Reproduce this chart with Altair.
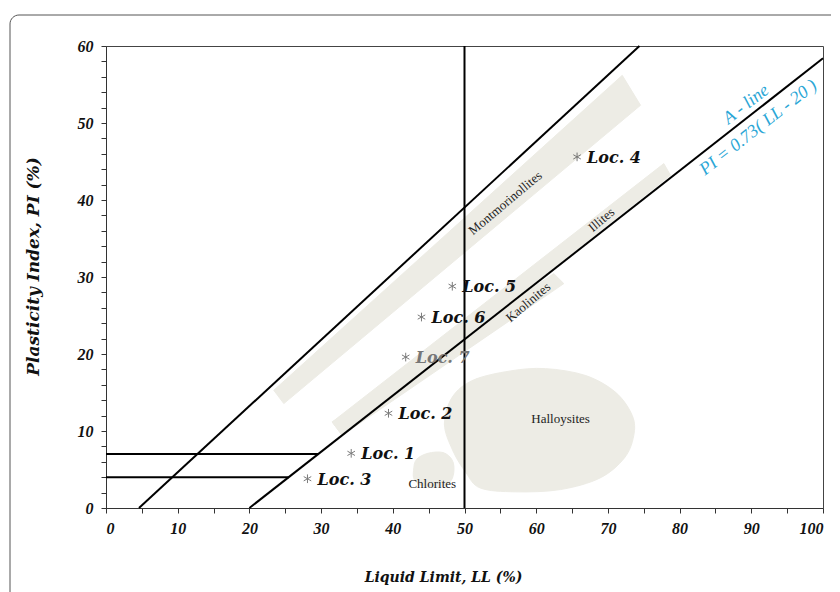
import altair as alt
import pandas as pd

# ---------------- data ----------------
# Reference lines (Casagrande chart)
line_names = ["U-line", "U-line", "A-line", "A-line", "PI7", "PI7", "PI4", "PI4", "LL50", "LL50"]
line_ll = [4.6, 74.4, 20, 100, 0, 29.6, 0, 25.5, 50, 50]
line_pi = [0, 60, 0, 58.4, 7, 7, 4, 4, 0, 60]

# Clay-mineral zones (band polygons, closed)
band_names = ["Montmorillonites"] * 5 + ["Kaolinites"] * 5 + ["Illites"] * 5
band_ll = [23.4, 72.0, 74.55, 24.8, 23.4,
           31.55, 62.45, 63.85, 32.94, 31.55,
           31.55, 77.8, 78.73, 32.94, 31.55]
band_pi = [15.29, 56.19, 52.3, 13.56, 15.29,
           11.17, 30.44, 29.14, 9.44, 11.17,
           11.17, 44.73, 43.21, 9.44, 11.17]

# Blob zones (smooth closed outlines)
halloysite_ll = [47.2, 48.3, 51.2, 56.4, 61.3, 66.9, 71.1, 73.4, 73.6, 72.3,
                 68.9, 63.4, 57.1, 52.2, 50.2, 48.4]
halloysite_pi = [10.9, 14.4, 16.6, 17.8, 18.1, 17.2, 15.0, 12.0, 9.4, 6.5,
                 3.9, 2.4, 2.1, 2.6, 4.6, 7.4]
chlorite_ll = [42.9, 43.3, 44.9, 47.0, 48.3, 48.5, 47.9, 46.3, 44.1, 43.0]
chlorite_pi = [4.9, 6.3, 7.1, 7.2, 6.2, 4.6, 3.3, 2.7, 2.9, 3.7]

# Sample locations
loc_names = ["Loc. 1", "Loc. 2", "Loc. 3", "Loc. 4", "Loc. 5", "Loc. 6", "Loc. 7"]
loc_ll = [34.2, 39.4, 28.1, 65.7, 48.3, 44.0, 41.8]
loc_pi = [7.1, 12.3, 3.8, 45.6, 28.8, 24.8, 19.6]

# Zone labels
zone_rot_names = ["Montmorinollites", "Illites", "Kaolinites"]
zone_rot_ll = [55.7, 69.1, 58.9]
zone_rot_pi = [39.6, 37.4, 26.7]
zone_flat_names = ["Halloysites", "Chlorites"]
zone_flat_ll = [63.4, 45.5]
zone_flat_pi = [11.5, 3.1]

# A-line annotation
aline_text = ["A - line", "PI = 0.73( LL - 20 )"]
aline_ll = [89.3, 91.0]
aline_pi = [52.4, 49.4]

# ---------------- tables ----------------
lines_df = pd.DataFrame({"name": line_names, "LL": line_ll, "PI": line_pi,
                         "i": list(range(len(line_names)))})
bands_df = pd.DataFrame({"name": band_names, "LL": band_ll, "PI": band_pi,
                         "i": list(range(len(band_names)))})
blobs_df = pd.DataFrame({
    "name": ["Halloysites"] * len(halloysite_ll) + ["Chlorites"] * len(chlorite_ll),
    "LL": halloysite_ll + chlorite_ll,
    "PI": halloysite_pi + chlorite_pi,
    "i": list(range(len(halloysite_ll) + len(chlorite_ll))),
})
locs_df = pd.DataFrame({"name": loc_names, "LL": loc_ll, "PI": loc_pi})
zrot_df = pd.DataFrame({"name": zone_rot_names, "LL": zone_rot_ll, "PI": zone_rot_pi})
zflat_df = pd.DataFrame({"name": zone_flat_names, "LL": zone_flat_ll, "PI": zone_flat_pi})
aline_df = pd.DataFrame({"name": aline_text, "LL": aline_ll, "PI": aline_pi})

SERIF = "Liberation Serif"
WIDE = "DejaVu Serif"
ZONE_FILL = "#edece5"

x_axis = alt.Axis(
    title="Liquid Limit, LL (%)",
    values=list(range(0, 101, 5)),
    labelExpr="datum.value % 10 === 0 ? datum.label : ''",
    grid=False, tickSize=5, tickColor="#333", domainColor="#333",
    labelFont=SERIF, labelFontStyle="italic", labelFontWeight="bold", labelFontSize=16,
    labelColor="#111", labelPadding=7,
    titleFont=WIDE, titleFontStyle="italic", titleFontWeight="bold", titleFontSize=14,
    titleColor="#111", titleX=337, titleY=69, titleBaseline="middle", titleAlign="center",
)
y_axis = alt.Axis(
    title="Plasticity Index, PI (%)",
    values=list(range(0, 61, 2)),
    labelExpr="datum.value % 10 === 0 ? datum.label : ''",
    grid=False, tickSize=5, tickColor="#333", domainColor="#333",
    labelFont=SERIF, labelFontStyle="italic", labelFontWeight="bold", labelFontSize=16,
    labelColor="#111", labelPadding=8,
    titleFont=WIDE, titleFontStyle="italic", titleFontWeight="bold", titleFontSize=17,
    titleColor="#111", titleX=-73, titleY=220, titleBaseline="middle", titleAlign="center",
    titleAngle=270,
)
X = alt.X("LL:Q", scale=alt.Scale(domain=[0, 100], nice=False, zero=False), axis=x_axis)
Y = alt.Y("PI:Q", scale=alt.Scale(domain=[0, 60], nice=False, zero=False), axis=y_axis)

frame = alt.Chart(pd.DataFrame({"a": [0]})).mark_rect(
    filled=False, stroke="#555", strokeWidth=1, cornerRadius=9, fill="transparent"
).encode(x=alt.value(-96), x2=alt.value(820), y=alt.value(-31), y2=alt.value(640))

bands = alt.Chart(bands_df).mark_line(
    fill=ZONE_FILL, stroke=ZONE_FILL, strokeWidth=1
).encode(x=X, y=Y, detail="name:N", order="i:Q")

blobs = alt.Chart(blobs_df).mark_line(
    fill=ZONE_FILL, stroke=ZONE_FILL, strokeWidth=1, interpolate="cardinal-closed"
).encode(x=X, y=Y, detail="name:N", order="i:Q")

lines = alt.Chart(lines_df).mark_line(color="#000", strokeWidth=2).encode(
    x=X, y=Y, detail="name:N", order="i:Q")

ast = "M0,-1L0,1M-0.87,-0.5L0.87,0.5M-0.87,0.5L0.87,-0.5"
points = alt.Chart(locs_df).mark_point(
    shape=ast, size=75, filled=False, stroke="#444", strokeWidth=1
).encode(x=X, y=Y)

loc_labels = alt.Chart(locs_df).mark_text(
    align="left", baseline="middle", dx=10, dy=1, font=WIDE, fontStyle="italic",
    fontWeight="bold", fontSize=16
).encode(
    x=X, y=Y, text="name:N",
    color=alt.condition(alt.datum.name == "Loc. 7", alt.value("#777"), alt.value("#111")),
)

zrot = alt.Chart(zrot_df).mark_text(
    angle=320, font=SERIF, fontSize=13, color="#222", align="center", baseline="middle"
).encode(x=X, y=Y, text="name:N")

zflat = alt.Chart(zflat_df).mark_text(
    font=SERIF, fontSize=13, color="#222", align="center", baseline="middle"
).encode(x=X, y=Y, text="name:N")

aline = alt.Chart(aline_df).mark_text(
    angle=322, font=SERIF, fontStyle="italic", fontSize=18, color="#2aa6d6",
    align="center", baseline="middle"
).encode(x=X, y=Y, text="name:N")

chart = alt.layer(frame, bands, blobs, lines, points, loc_labels, zrot, zflat, aline).properties(
    width=717, height=462,
    padding={"left": 98, "top": 38, "right": 8, "bottom": 84},
    autosize="none", background="white",
).configure_view(stroke="#444", strokeWidth=1)

chart.save("out.html", embed_options={"renderer": "svg", "actions": False})
